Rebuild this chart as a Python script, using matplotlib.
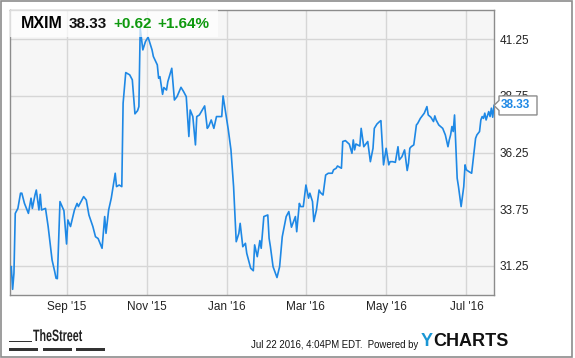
import numpy as np
import pandas as pd
import matplotlib.pyplot as plt
from matplotlib.patches import Rectangle, Polygon, PathPatch
from matplotlib.textpath import TextPath
from matplotlib.font_manager import FontProperties
from matplotlib.transforms import Affine2D, IdentityTransform

# MXIM daily close (days counted from 2015-07-20)
start = pd.Timestamp('2015-07-20')
day_offsets = [1, 2, 3, 4, 6, 8, 9, 11, 14, 16, 17, 19, 20, 22, 23, 24, 27, 29, 32, 34,
               35, 36, 38, 41, 43, 44, 46, 49, 51, 52, 56, 58, 60, 63, 65, 67, 70, 72, 73, 75,
               77, 80, 81, 83, 85, 86, 88, 91, 93, 95, 97, 98, 99, 101, 103, 105, 108, 109, 112, 113,
               114, 116, 117, 119, 120, 123, 125, 127, 130, 132, 134, 136, 137, 139, 141, 142, 144, 148, 150, 151,
               153, 155, 157, 161, 162, 166, 168, 170, 172, 174, 175, 177, 179, 180, 183, 185, 186, 188, 190, 191,
               193, 196, 197, 198, 200, 203, 205, 207, 210, 212, 214, 217, 218, 220, 221, 223, 225, 227, 228, 230,
               231, 233, 235, 236, 238, 240, 242, 245, 246, 248, 249, 252, 253, 255, 258, 260, 261, 262, 263, 266,
               267, 269, 271, 272, 274, 276, 277, 279, 281, 282, 284, 286, 288, 289, 291, 293, 295, 296, 298, 300,
               302, 303, 304, 305, 307, 309, 310, 312, 314, 315, 317, 318, 320, 322, 323, 324, 326, 329, 331, 333,
               334, 335, 336, 337, 338, 340, 341, 343, 345, 346, 347, 349, 351, 354, 355, 357, 358, 359, 360, 361,
               362, 364, 365, 366, 367, 368]
prices = [31.22, 30.22, 30.93, 33.57, 33.79, 34.46, 34.46, 34.01, 33.57, 34.24, 33.79, 34.38, 34.60, 33.72, 34.41, 33.72, 33.79, 32.99, 31.51, 31.00,
          30.71, 30.69, 34.09, 33.69, 32.22, 33.28, 32.99, 33.72, 34.01, 33.87, 34.31, 34.16, 33.50, 32.99, 32.54, 32.46, 32.03, 33.43, 32.69, 33.72,
          34.24, 35.34, 34.75, 34.82, 34.75, 38.43, 39.78, 39.68, 39.46, 37.96, 38.10, 38.28, 41.74, 40.78, 41.15, 41.34, 40.78, 40.49, 40.12, 39.53,
          39.60, 38.82, 39.12, 39.01, 39.38, 39.97, 38.57, 38.72, 39.13, 38.94, 38.72, 36.96, 38.13, 37.84, 36.59, 37.84, 37.91, 38.31, 37.32, 37.40,
          37.69, 37.32, 37.84, 37.84, 38.75, 37.25, 36.37, 34.75, 32.32, 32.69, 33.13, 32.10, 32.25, 31.81, 31.15, 31.04, 32.18, 31.66, 32.37, 32.03,
          33.43, 33.50, 32.47, 32.10, 31.22, 30.74, 31.22, 32.54, 33.43, 33.65, 32.96, 33.43, 32.76, 34.01, 33.87, 33.87, 34.82, 34.24, 34.46, 34.09,
          33.21, 33.72, 34.60, 34.49, 34.38, 35.26, 35.34, 35.34, 35.49, 35.56, 35.66, 35.56, 36.74, 36.78, 36.62, 36.22, 36.81, 36.37, 36.63, 36.54,
          37.32, 36.51, 36.66, 36.74, 35.85, 36.44, 37.32, 37.51, 37.62, 37.66, 35.71, 36.44, 35.71, 35.85, 35.85, 35.82, 36.51, 35.93, 36.07, 36.37,
          35.46, 35.78, 36.44, 36.51, 36.59, 37.47, 37.54, 37.76, 37.91, 37.99, 38.28, 37.91, 37.81, 37.62, 37.87, 37.69, 37.47, 37.32, 37.03, 36.51,
          36.81, 37.03, 37.40, 37.18, 37.91, 35.12, 34.75, 33.87, 34.75, 35.71, 35.49, 35.41, 35.34, 36.88, 37.03, 37.18, 37.69, 37.84, 37.76, 37.99,
          37.69, 38.06, 37.84, 38.21, 37.81, 38.33]

ticker = 'MXIM'
last_price = 38.33
change = '+0.62'
change_pct = '+1.64%'
y_ticks = [31.25, 33.75, 36.25, 38.75, 41.25]
x_tick_dates = ['2015-09-01', '2015-11-01', '2016-01-01', '2016-03-01', '2016-05-01', '2016-07-01']
x_tick_labels = ["Sep '15", "Nov '15", "Jan '16", "Mar '16", "May '16", "Jul '16"]
stamp = 'Jul 22 2016, 4:04PM EDT.  Powered by'

blue = '#1e88e5'
green = '#0e990e'
W, H = 575, 358

dates = start + pd.to_timedelta(day_offsets, unit='D')

plt.rcParams['font.family'] = ['Liberation Sans', 'DejaVu Sans']
fig = plt.figure(figsize=(W / 100, H / 100), dpi=100)
fig.patch.set_facecolor('white')
ax = fig.add_axes([10 / W, 1 - 295 / H, 484 / W, 285 / H])
ax.set_facecolor('#f6f6f6')

ax.plot(dates, prices, color=blue, lw=1.2, zorder=3)

ax.set_xlim(start, start + pd.Timedelta(days=368))
ax.set_ylim(29.97, 42.54)
ax.set_yticks(y_ticks)
ax.set_yticklabels(['%.2f' % v for v in y_ticks])
ax.set_xticks(pd.to_datetime(x_tick_dates))
ax.set_xticklabels(x_tick_labels)
ax.yaxis.tick_right()
ax.tick_params(axis='y', length=0, pad=4, labelsize=8.5, labelcolor='#222222')
ax.tick_params(axis='x', length=0, pad=4, labelsize=8.5, labelcolor='#222222')
ax.grid(True, color='#d6d6d6', lw=1)
ax.set_axisbelow(True)
for s in ax.spines.values():
    s.set_color('#8c8c8c')
    s.set_linewidth(1)

# header box with quote
ax.add_patch(Rectangle((0, 1 - 27 / 285), 208 / 484, 27 / 285, transform=ax.transAxes,
                       facecolor='white', alpha=0.7, edgecolor='none', zorder=4))
ty = 1 - 24 / H
fig.text(21 / W, ty, ticker, fontsize=11.5, weight='bold', color='black', va='center', zorder=5)
fig.text(69 / W, ty, '%.2f' % last_price, fontsize=11, weight='bold', color='#111111', va='center', zorder=5)
fig.text(113 / W, ty, change, fontsize=11, weight='bold', color=green, va='center', zorder=5)
fig.text(157 / W, ty, change_pct, fontsize=11, weight='bold', color=green, va='center', zorder=5)

# last price callout
yl = ax.transData.transform((0, last_price))[1]
x0 = ax.transAxes.transform((1, 0))[0]
fig.add_artist(Polygon([(x0, yl), (x0 + 5, yl + 5), (x0 + 5, yl + 9.5), (x0 + 43, yl + 9.5),
                        (x0 + 43, yl - 9.5), (x0 + 5, yl - 9.5), (x0 + 5, yl - 5)], closed=True,
                       transform=IdentityTransform(), facecolor='white', edgecolor='#8c8c8c',
                       lw=1, zorder=6))
fig.text((x0 + 7) / W, yl / H, '%.2f' % last_price, fontsize=8.5, weight='bold', color=blue,
         va='center', ha='left', zorder=7)

# outer frame
fig.add_artist(Rectangle((1, 1), W - 4, H - 2, transform=IdentityTransform(),
                         facecolor='none', edgecolor='#8c8c8c', lw=1.2))

# TheStreet logo (squeezed text)
tp = TextPath((0, 0), 'TheStreet', size=14, prop=FontProperties(family='Liberation Sans', weight='bold'))
ext = tp.get_extents()
sx = 49 / ext.width
tr = Affine2D().scale(sx, 12 / 10.2).translate(33, H - 341)
fig.add_artist(PathPatch(tr.transform_path(tp), transform=IdentityTransform(),
                         facecolor='#222222', edgecolor='none'))
fig.add_artist(Rectangle((9, H - 341.5), 23, 1, transform=IdentityTransform(),
                         facecolor='#333333', edgecolor='none'))
for bx, bw in [(9, 29), (43, 29), (76, 29)]:
    fig.add_artist(Rectangle((bx, H - 351), bw, 3, transform=IdentityTransform(),
                             facecolor='#333333', edgecolor='none'))

# footer
fig.text(251 / W, 1 - 345 / H, stamp, fontsize=6.9, color='#111111', va='center', ha='left')
fig.text(421 / W, 1 - 341 / H, 'Y', fontsize=13, weight='bold', color='#1a96d4', va='center', ha='left')
fig.text(433 / W, 1 - 341 / H, 'CHARTS', fontsize=13, weight='bold', color='#111111', va='center', ha='left')

fig.savefig('out.png', dpi=100)
